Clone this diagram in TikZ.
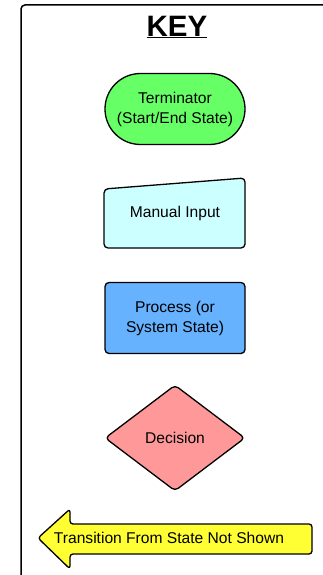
\documentclass[tikz,border=0pt]{standalone}
\usepackage{fontspec}
\setmainfont{Liberation Sans}
\usepackage{tikz}
\usetikzlibrary{shapes.geometric}
\usetikzlibrary{shapes.misc}
\usepackage{xcolor}

\definecolor{termgreen}{HTML}{66FF66}
\definecolor{inputcyan}{HTML}{CCFFFF}
\definecolor{procblue}{HTML}{66B2FF}
\definecolor{decpink}{HTML}{FF9999}
\definecolor{arrowyellow}{HTML}{FFFF33}

\begin{document}
\begin{tikzpicture}[x=1pt, y=-1pt, line width=1.3pt, line join=round,
    every node/.style={font=\fontsize{15.6}{20}\selectfont, align=center, inner sep=0pt},
    keybox/.style={draw, minimum width=140pt, minimum height=71pt}]
  \useasboundingbox (0,0) rectangle (323,575);

  % frame, runs off to the right and bottom
  \draw[line width=1.5pt, rounded corners=4pt] (21,600) -- (21,5) -- (345,5);

  \node[font=\fontsize{29.5}{32}\selectfont\bfseries] (title) at (177,27) {\underline{KEY}};

  \node[keybox, rounded rectangle, fill=termgreen] (term) at (175,109) {Terminator\\(Start/End State)};

  \draw[fill=inputcyan, rounded corners=4pt] (104,189) -- (245,178) -- (245,248) -- (104,248) -- cycle;
  \node (input) at (175,213) {Manual Input};

  \node[keybox, rounded corners=4pt, fill=procblue] (proc) at (175,318) {Process (or\\System State)};

  \node[draw, diamond, aspect=1.33, rounded corners=4pt, fill=decpink,
        minimum width=140pt, minimum height=106pt] (dec) at (175,438) {Decision};

  \draw[fill=arrowyellow, rounded corners=3pt] (38,538) -- (70,509) -- (70,524) -- (312,524)
    -- (312,554) -- (70,554) -- (70,569) -- cycle;
  \node (trans) at (169,538) {Transition From State Not Shown};
\end{tikzpicture}
\end{document}
